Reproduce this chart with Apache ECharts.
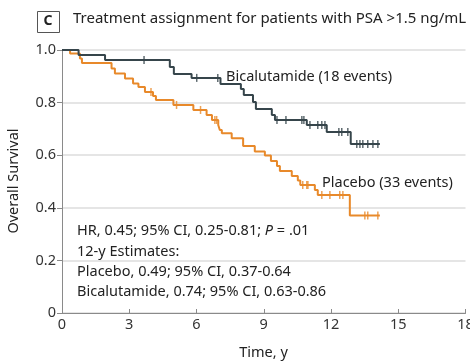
<!DOCTYPE html>
<html><head><meta charset="utf-8">
<script src="https://cdn.jsdelivr.net/npm/echarts@6/dist/echarts.min.js"></script>
<style>html,body{margin:0;padding:0;background:#fff}#c{width:470px;height:364px}</style>
</head><body><div id="c"></div>
<script>
const xTicks = [0, 3, 6, 9, 12, 15, 18];
const yTicks = [0, 0.2, 0.4, 0.6, 0.8, 1.0];

const bicaTimes = [0, 0.74, 1.92, 4.81, 4.99, 5.78, 7.07, 7.98, 8.11, 8.52, 8.65, 9.36, 9.50, 10.92, 11.81, 12.88];
const bicaSurv  = [1.0, 0.981, 0.962, 0.935, 0.909, 0.894, 0.871, 0.852, 0.829, 0.802, 0.776, 0.753, 0.734, 0.715, 0.688, 0.643];
const bicaCensor = [3.66, 6.01, 6.95, 9.59, 9.99, 10.70, 10.79, 11.06, 11.41, 11.59, 11.73, 12.35, 12.48, 12.75, 13.15, 13.29, 13.42, 13.64, 13.87, 14.09];
const bicaEnd = 14.18;

const placTimes = [0, 0.36, 0.80, 0.89, 2.21, 2.36, 2.81, 3.17, 3.41, 3.70, 4.06, 4.19, 4.97, 5.86, 6.45, 6.69, 6.97, 7.04, 7.13, 7.57, 8.08, 8.60, 9.05, 9.32, 9.59, 9.72, 10.25, 10.52, 10.63, 11.28, 11.41, 12.84];
const placSurv  = [1.0, 0.987, 0.968, 0.951, 0.930, 0.911, 0.892, 0.873, 0.859, 0.840, 0.825, 0.810, 0.791, 0.772, 0.753, 0.734, 0.715, 0.696, 0.683, 0.664, 0.635, 0.614, 0.599, 0.578, 0.559, 0.540, 0.521, 0.504, 0.487, 0.468, 0.449, 0.371];
const placCensor = [3.97, 5.11, 6.18, 6.82, 6.90, 10.74, 10.92, 10.97, 11.59, 11.95, 12.39, 12.53, 13.51, 13.64, 14.09];
const placEnd = 14.18;

const titleText = 'Treatment assignment for patients with PSA >1.5 ng/mL';
const bicaLabel = 'Bicalutamide (18 events)';
const placLabel = 'Placebo (33 events)';

const FONT = '"Noto Sans", sans-serif';
const BICA_COLOR = '#36454b';
const PLAC_COLOR = '#e8892a';

function stepData(times, surv, end) {
  const d = times.map((t, i) => [t, surv[i]]);
  d.push([end, surv[surv.length - 1]]);
  return d;
}
function survAt(times, surv, t) {
  let s = surv[0];
  for (let i = 0; i < times.length; i++) { if (times[i] <= t) s = surv[i]; }
  return s;
}
function censorData(times, surv, cens) {
  return cens.map(t => [t, survAt(times, surv, t)]);
}

const chart = echarts.init(document.getElementById('c'), null, {renderer: 'canvas'});
chart.setOption({
  animation: false,
  backgroundColor: '#fff',
  grid: {left: 62, right: 4.5, top: 50, bottom: 51, containLabel: false, outerBoundsMode: 'none'},
  xAxis: {
    type: 'value', min: xTicks[0], max: xTicks[xTicks.length - 1], interval: 3,
    axisLine: {show: true, lineStyle: {color: '#8a8a8a', width: 1}},
    axisTick: {show: true, inside: true, length: 4, lineStyle: {color: '#8a8a8a'}},
    axisLabel: {color: '#333', fontSize: 14.5, fontFamily: FONT, margin: 4, hideOverlap: false},
    splitLine: {show: false}
  },
  yAxis: {
    type: 'value', min: 0, max: 1, interval: 0.2,
    axisLine: {show: true, lineStyle: {color: '#8a8a8a', width: 1}},
    axisTick: {show: true, length: 5, lineStyle: {color: '#8a8a8a'}},
    axisLabel: {color: '#333', fontSize: 14.5, fontFamily: FONT, margin: 6,
      formatter: v => (v === 0 ? '0' : v.toFixed(1))},
    splitLine: {show: true, lineStyle: {color: '#dcdcdc', width: 1.5}}
  },
  series: [
    {type: 'line', step: 'end', data: stepData(placTimes, placSurv, placEnd), symbol: 'none',
      lineStyle: {color: PLAC_COLOR, width: 2}, z: 3},
    {type: 'scatter', data: censorData(placTimes, placSurv, placCensor), symbol: 'rect',
      symbolSize: [1.5, 8], itemStyle: {color: PLAC_COLOR}, z: 4},
    {type: 'line', step: 'end', data: stepData(bicaTimes, bicaSurv, bicaEnd), symbol: 'none',
      lineStyle: {color: BICA_COLOR, width: 2}, z: 5},
    {type: 'scatter', data: censorData(bicaTimes, bicaSurv, bicaCensor), symbol: 'rect',
      symbolSize: [1.5, 8], itemStyle: {color: BICA_COLOR}, z: 6}
  ],
  graphic: [
    {type: 'rect', left: 37, top: 11, shape: {width: 22, height: 21}, style: {fill: '#fff', stroke: '#555', lineWidth: 1}},
    {type: 'text', x: 48, y: 21.5, style: {text: 'C', font: 'bold 14px ' + FONT, fill: '#222', textAlign: 'center', textVerticalAlign: 'middle'}},
    {type: 'text', x: 73, y: 19, style: {text: titleText, font: '15px ' + FONT, fill: '#222', textAlign: 'left', textVerticalAlign: 'middle'}},
    {type: 'text', x: 226, y: 77, style: {text: bicaLabel, font: '14.5px ' + FONT, fill: '#222', textAlign: 'left', textVerticalAlign: 'middle'}},
    {type: 'text', x: 322, y: 183, style: {text: placLabel, font: '14.5px ' + FONT, fill: '#222', textAlign: 'left', textVerticalAlign: 'middle'}},
    {type: 'text', x: 77, y: 231, style: {
      rich: {n: {font: '14.5px ' + FONT, fill: '#222'}, i: {font: 'italic 14.5px ' + FONT, fill: '#222'}},
      text: '{n|HR, 0.45; 95% CI, 0.25-0.81; }{i|P}{n| = .01}', textAlign: 'left', textVerticalAlign: 'middle'}},
    {type: 'text', x: 77, y: 251.5, style: {text: '12-y Estimates:', font: '14.5px ' + FONT, fill: '#222', textAlign: 'left', textVerticalAlign: 'middle'}},
    {type: 'text', x: 77, y: 272, style: {text: 'Placebo, 0.49; 95% CI, 0.37-0.64', font: '14.5px ' + FONT, fill: '#222', textAlign: 'left', textVerticalAlign: 'middle'}},
    {type: 'text', x: 77, y: 292, style: {text: 'Bicalutamide, 0.74; 95% CI, 0.63-0.86', font: '14.5px ' + FONT, fill: '#222', textAlign: 'left', textVerticalAlign: 'middle'}},
    {type: 'text', x: 14, y: 181, rotation: Math.PI / 2, style: {text: 'Overall Survival', font: '14.5px ' + FONT, fill: '#222', textAlign: 'center', textVerticalAlign: 'middle'}},
    {type: 'text', x: 263.5, y: 353, style: {text: 'Time, y', font: '14.5px ' + FONT, fill: '#222', textAlign: 'center', textVerticalAlign: 'middle'}}
  ]
});
</script>
</body></html>
